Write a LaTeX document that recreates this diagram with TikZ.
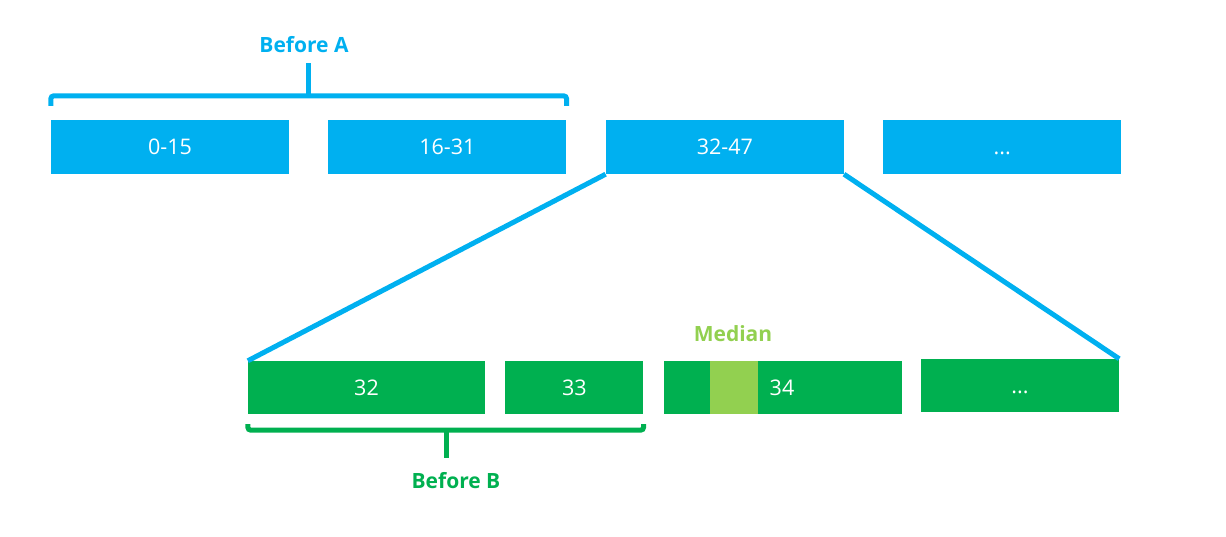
\documentclass[tikz,border=0pt]{standalone}
\usepackage{fontspec}
\setmainfont{Open Sans}
\usetikzlibrary{positioning}
\definecolor{ablue}{HTML}{00B0F0}
\definecolor{bgreen}{HTML}{00B050}
\definecolor{mgreen}{HTML}{92D050}

\begin{document}
\begin{tikzpicture}[x=1pt,y=-1pt,
  node distance=39pt,
  font=\fontsize{21.5}{24}\selectfont,
  box/.style={minimum height=54pt,inner sep=0pt,text=white,text height=15pt,text depth=0pt},
  abox/.style={box,fill=ablue,minimum width=238pt},
  bbox/.style={box,fill=bgreen,minimum height=53pt},
  tag/.style={font=\fontsize{21}{24}\selectfont\bfseries},
  brace/.style={line width=5pt,rounded corners=3pt},
  zoom/.style={line width=5pt,ablue}]
  \useasboundingbox (0,0) rectangle (1226,536);
  % top row
  \node[abox] (a1) at (170,147) {0-15};
  \node[abox,right=of a1] (a2) {16-31};
  \node[abox,right=of a2] (a3) {32-47};
  \node[abox,right=of a3] (a4) {...};
  % bottom row
  \node[bbox,minimum width=237pt] (b1) at (366.5,387.5) {32};
  \node[bbox,minimum width=138pt,right=20pt of b1] (b2) {33};
  \node[bbox,minimum width=238pt,right=20pt of b2] (b3) {};
  \node[fill=mgreen,minimum width=48pt,minimum height=53pt,inner sep=0pt] (med) at (734,387.5) {};
  \node[box] (b3t) at (782,387.5) {34};
  \node[bbox,minimum width=198pt] (b4) at (1020,385.5) {...};
  \node[tag,text=mgreen] (median) at (733,334) {Median};
  % zoom lines
  \draw[zoom] (a3.south west) -- (b1.north west);
  \draw[zoom] (a3.south east) -- (b4.north east);
  % brace A
  \draw[brace,ablue] ([yshift=14pt]a1.north west) -- ([yshift=24pt]a1.north west) -| ([yshift=14pt]a2.north east);
  \coordinate (braceA) at (308.5,96);
  \draw[line width=5pt,ablue] (braceA) -- ++(0,-33);
  \node[tag,text=ablue] (beforeA) at (304,45) {Before A};
  % brace B
  \draw[brace,bgreen] ([yshift=-10pt]b1.south west) -- ([yshift=-16pt]b1.south west) -| ([yshift=-10pt]b2.south east);
  \coordinate (braceB) at (446,430);
  \draw[line width=5pt,bgreen] (braceB) -- ++(0,28);
  \node[tag,text=bgreen] (beforeB) at (456,481) {Before B};
\end{tikzpicture}
\end{document}
